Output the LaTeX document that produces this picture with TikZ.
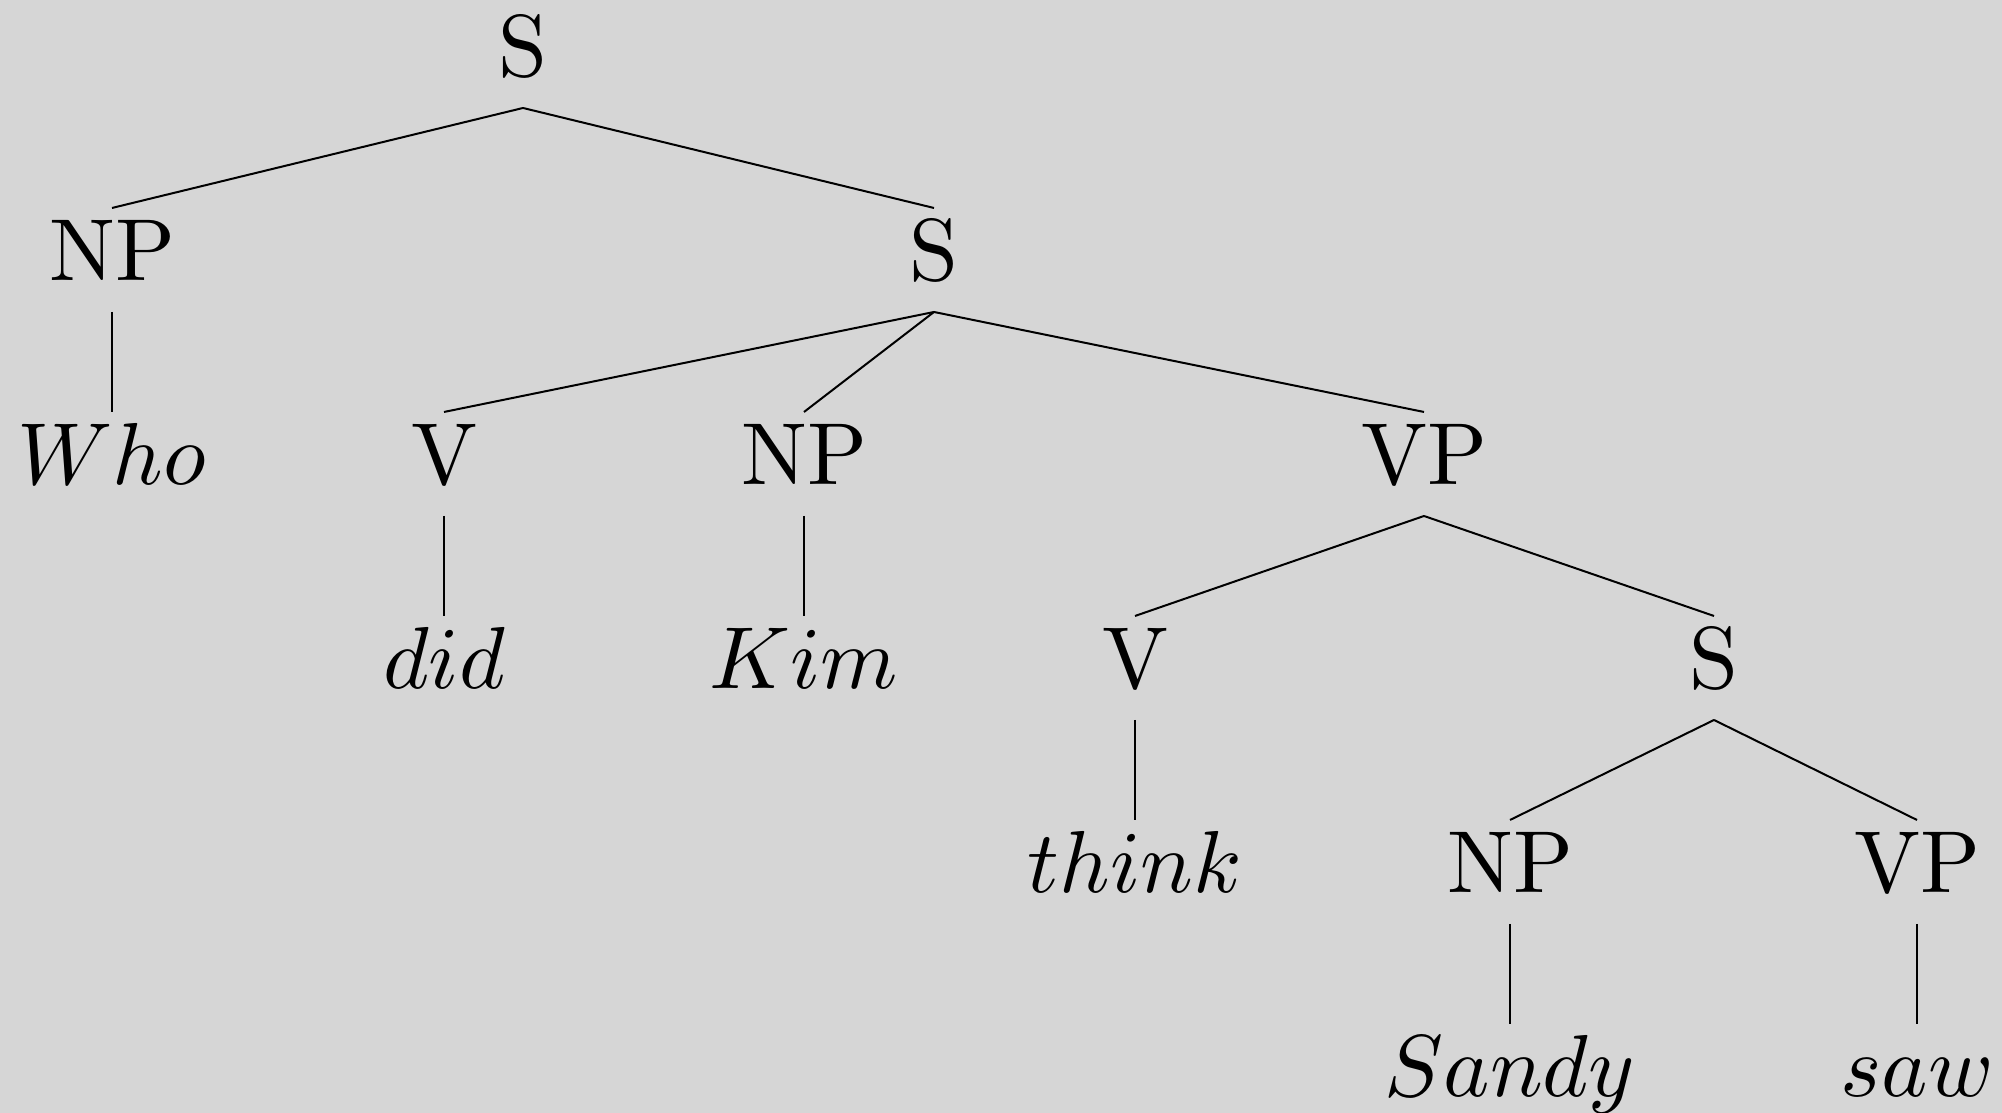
\documentclass[tikz,border=0pt]{standalone}
\usepackage{graphicx}
\definecolor{bgcol}{RGB}{214,214,214}
\newcommand{\bigtxt}[1]{\scalebox{1.76}{#1}}
\begin{document}
\begin{tikzpicture}[x=0.2pt,y=-0.2pt,
  lab/.style={anchor=base,inner xsep=0pt,inner ysep=0pt,outer sep=0pt,
    text height=14.6pt,text depth=6.2pt,font=\fontsize{10}{12}\selectfont},
  br/.style={line width=0.4pt}]
\fill[bgcol] (0,0) rectangle (2002,1113);
\useasboundingbox (0,0) rectangle (2002,1113);
\node[lab] (s0) at (523,77) {\bigtxt{S}};
\node[lab] (np1) at (112,281) {\bigtxt{NP}};
\node[lab] (s1) at (934,281) {\bigtxt{S}};
\node[lab] (who) at (112,485) {\bigtxt{$Who$}};
\node[lab] (v1) at (444,485) {\bigtxt{V}};
\node[lab] (np2) at (804,485) {\bigtxt{NP}};
\node[lab] (vp1) at (1424,485) {\bigtxt{VP}};
\node[lab] (did) at (444,689) {\bigtxt{$did$}};
\node[lab] (kim) at (804,689) {\bigtxt{$Kim$}};
\node[lab] (v2) at (1135,689) {\bigtxt{V}};
\node[lab] (s2) at (1714,689) {\bigtxt{S}};
\node[lab] (think) at (1135,893) {\bigtxt{$think$}};
\node[lab] (np3) at (1510,893) {\bigtxt{NP}};
\node[lab] (vp2) at (1917,893) {\bigtxt{VP}};
\node[lab] (sandy) at (1510,1097) {\bigtxt{$Sandy$}};
\node[lab] (saw) at (1917,1097) {\bigtxt{$saw$}};
\draw[br] (s0.south) -- (np1.north);
\draw[br] (s0.south) -- (s1.north);
\draw[br] (np1.south) -- (who.north);
\draw[br] (s1.south) -- (v1.north);
\draw[br] (s1.south) -- (np2.north);
\draw[br] (s1.south) -- (vp1.north);
\draw[br] (v1.south) -- (did.north);
\draw[br] (np2.south) -- (kim.north);
\draw[br] (vp1.south) -- (v2.north);
\draw[br] (vp1.south) -- (s2.north);
\draw[br] (v2.south) -- (think.north);
\draw[br] (s2.south) -- (np3.north);
\draw[br] (s2.south) -- (vp2.north);
\draw[br] (np3.south) -- (sandy.north);
\draw[br] (vp2.south) -- (saw.north);
\end{tikzpicture}
\end{document}
